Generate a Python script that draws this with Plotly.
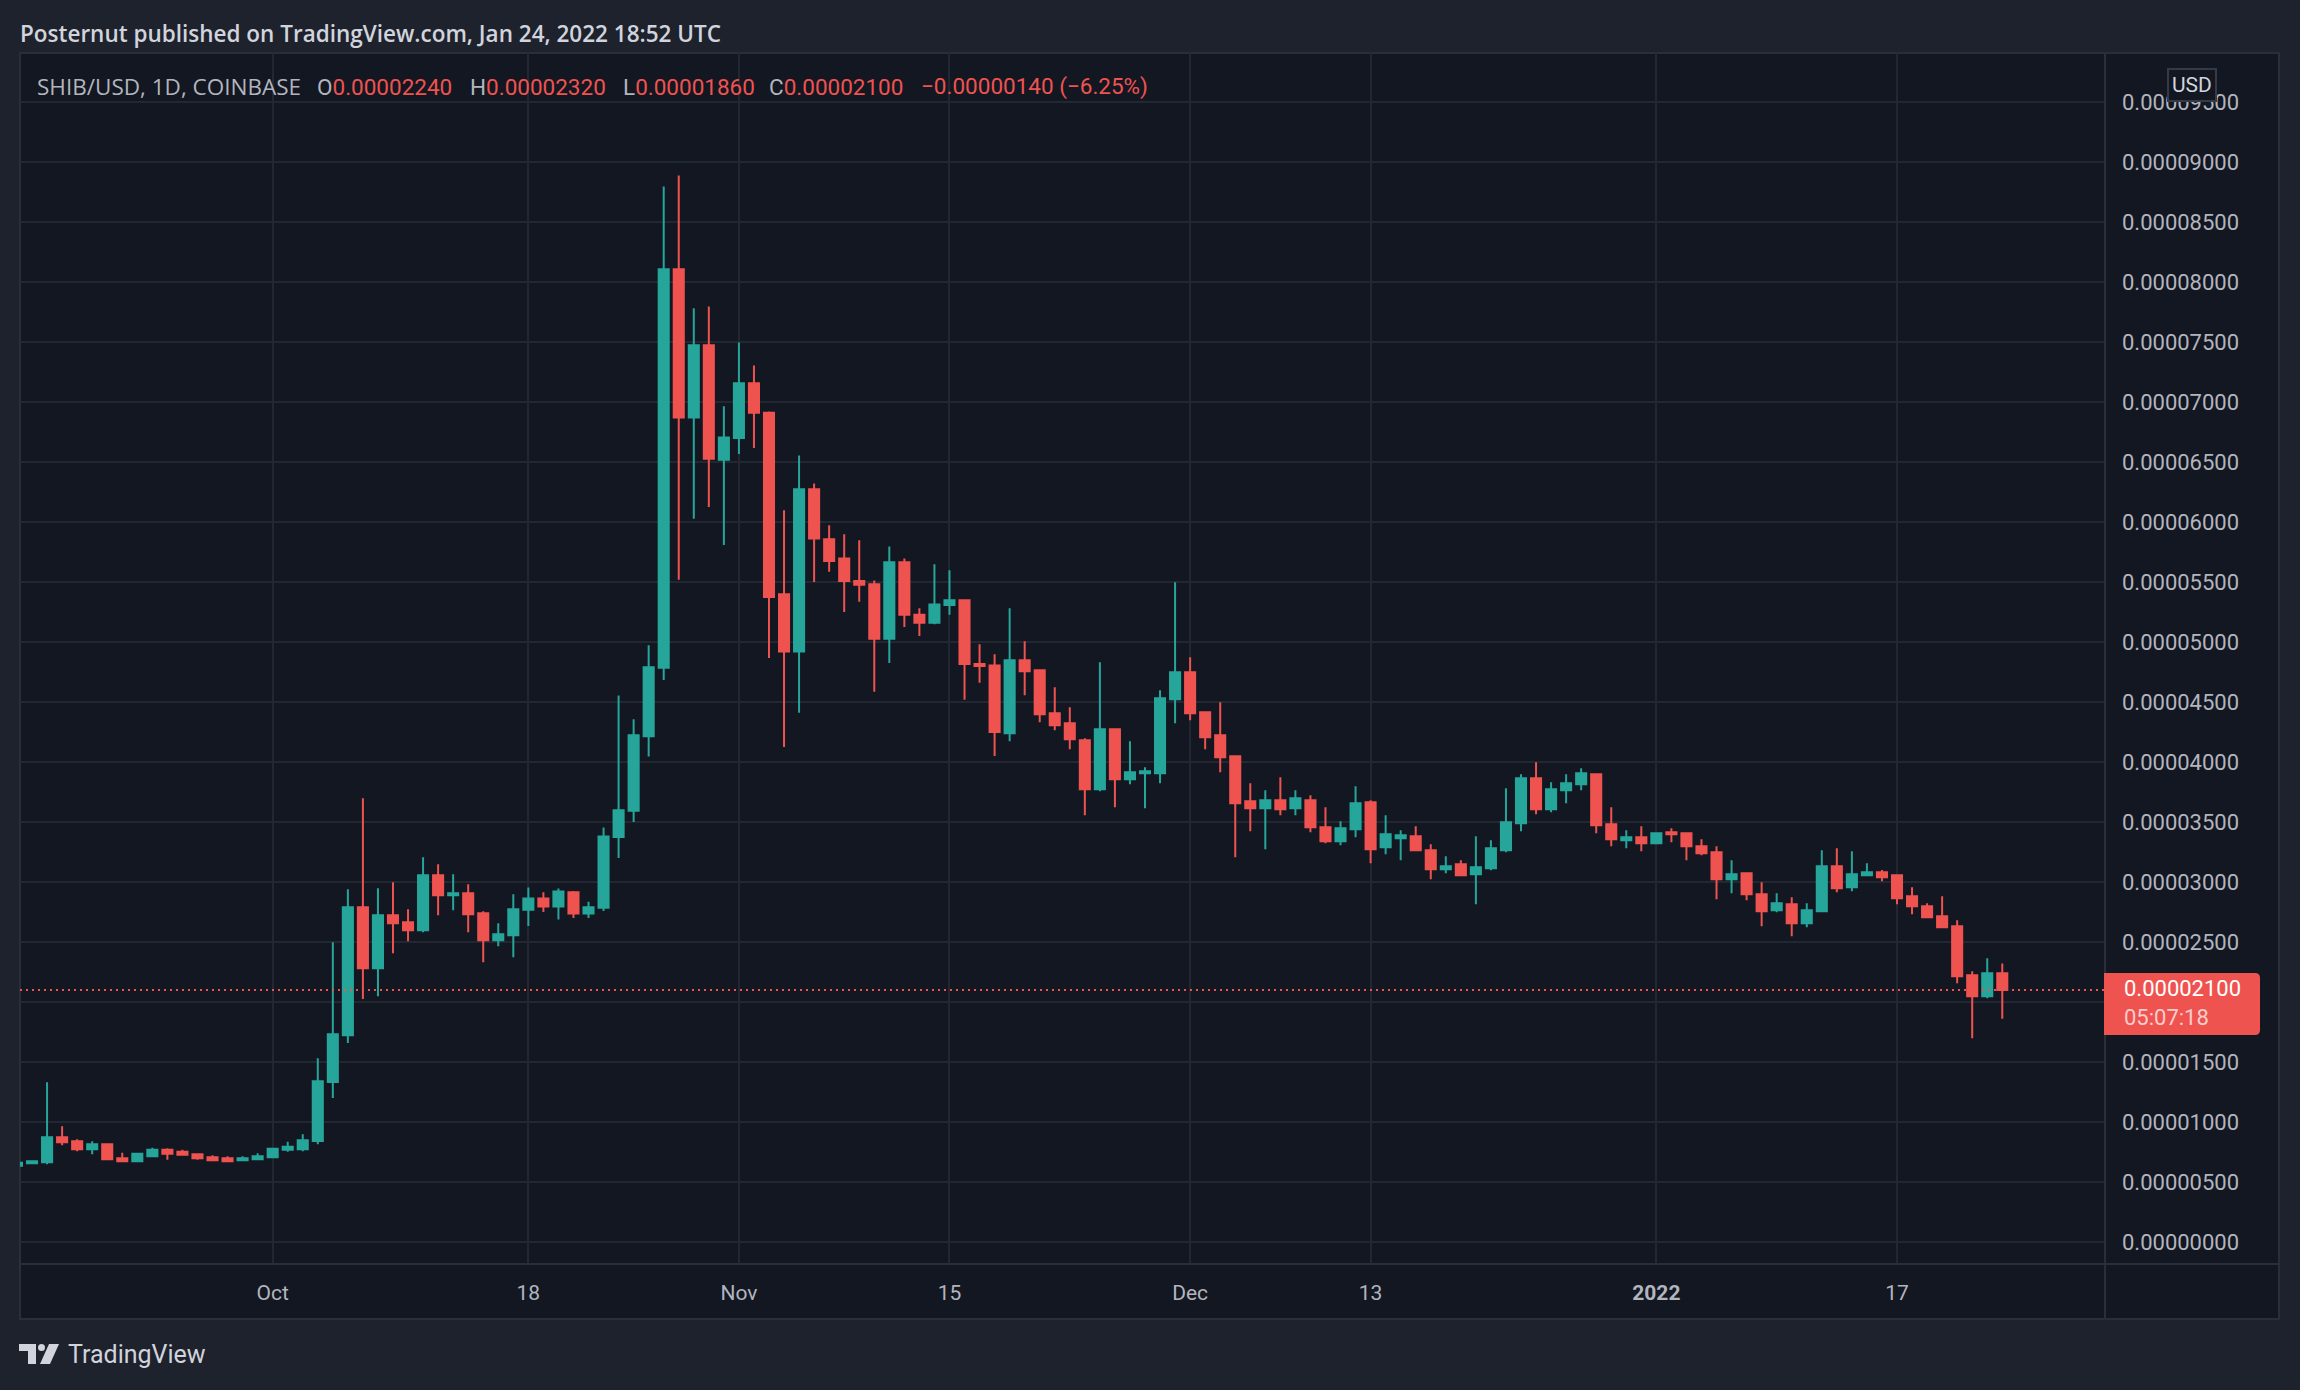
import plotly.graph_objects as go
import pandas as pd

W, H = 2300, 1390

# ---------------- data (prices in units of 0.000001 USD) ----------------
PRICE_UNIT = 1e-6
START_DATE = "2021-09-14"
OPEN = [6.35, 6.56, 6.64, 8.72, 8.39, 7.72, 8.14, 6.97, 6.72, 7.14,
        7.69, 7.53, 7.31, 7.06, 6.97, 6.81, 6.89, 7.06, 7.69, 7.72,
        8.42, 13.33, 17.22, 27.89, 22.81, 27.22, 26.64, 25.97, 30.56, 28.89,
        29.06, 27.39, 25.14, 25.56, 27.68, 28.62, 27.95, 29.15, 27.37, 27.86,
        33.75, 35.93, 42.14, 47.86, 81.07, 68.70, 74.73, 65.18, 67.01, 71.56,
        69.11, 53.97, 49.20, 62.72, 58.57, 56.96, 55.09, 54.82, 50.27, 56.65,
        52.28, 51.61, 53.08, 53.48, 48.17, 48.04, 42.39, 48.47, 47.64, 44.06,
        43.22, 41.81, 37.72, 42.72, 38.56, 39.06, 39.06, 45.22, 47.47, 44.14,
        42.22, 40.47, 36.72, 36.14, 36.81, 36.14, 36.81, 34.56, 33.39, 34.39,
        36.64, 32.89, 33.64, 33.81, 32.64, 31.06, 31.47, 30.64, 31.14, 32.64,
        34.89, 38.64, 36.06, 37.64, 38.14, 38.97, 34.81, 33.47, 33.72, 33.22,
        34.14, 34.06, 32.97, 32.47, 30.22, 30.72, 28.97, 27.64, 28.14, 26.56,
        27.56, 31.31, 29.56, 30.56, 30.81, 30.56, 28.81, 27.97, 27.14, 26.31,
        22.22, 20.47, 22.40]
HIGH = [6.70, 6.81, 13.31, 9.64, 8.56, 8.39, 8.16, 7.44, 7.36, 7.86,
        7.81, 7.69, 7.31, 7.22, 7.14, 7.14, 7.39, 7.86, 8.36, 8.97,
        15.31, 24.97, 29.39, 36.97, 29.47, 29.97, 27.72, 32.06, 31.47, 30.64,
        29.81, 27.56, 26.56, 28.97, 29.55, 29.15, 29.46, 29.24, 28.35, 34.55,
        45.54, 43.57, 49.73, 87.95, 88.88, 77.81, 77.95, 69.64, 74.96, 73.04,
        69.20, 60.98, 65.54, 63.21, 59.73, 58.97, 58.48, 55.13, 57.95, 56.96,
        52.81, 56.47, 55.98, 53.57, 49.82, 48.97, 52.81, 50.06, 47.72, 46.22,
        44.56, 41.97, 48.31, 42.81, 41.72, 39.56, 45.97, 54.97, 48.72, 44.14,
        44.97, 40.47, 38.22, 37.64, 38.72, 37.64, 37.22, 36.22, 35.06, 37.97,
        36.81, 35.56, 34.31, 34.64, 33.14, 32.14, 31.81, 33.81, 33.47, 37.81,
        38.97, 39.97, 38.31, 38.97, 39.47, 39.06, 36.22, 34.31, 34.64, 34.14,
        34.47, 34.06, 33.56, 32.97, 31.81, 30.81, 29.97, 29.06, 28.72, 28.22,
        32.64, 32.81, 32.56, 31.56, 31.00, 30.56, 29.56, 28.22, 28.81, 26.81,
        22.56, 23.64, 23.20]
LOW = [6.30, 6.50, 6.47, 8.06, 7.56, 7.31, 6.86, 6.69, 6.72, 7.06,
       6.86, 7.19, 6.86, 6.78, 6.72, 6.81, 6.89, 7.06, 7.53, 7.56,
       8.14, 12.00, 16.58, 20.25, 20.47, 24.06, 25.06, 25.81, 27.22, 27.64,
       25.81, 23.31, 24.64, 23.72, 26.34, 27.50, 26.88, 27.00, 27.00, 27.59,
       32.01, 35.00, 40.45, 46.83, 55.18, 60.27, 61.25, 58.08, 65.67, 66.16,
       48.66, 41.25, 44.11, 55.00, 55.85, 52.50, 53.35, 45.85, 48.26, 51.25,
       50.49, 51.47, 52.28, 45.18, 46.61, 40.49, 41.72, 45.56, 43.31, 42.64,
       41.06, 35.56, 37.56, 36.22, 38.14, 36.14, 38.22, 43.22, 43.47, 41.06,
       39.14, 32.06, 34.22, 32.72, 35.56, 35.56, 34.14, 33.22, 33.06, 33.72,
       31.56, 32.31, 31.81, 32.56, 30.22, 30.72, 30.56, 28.14, 30.97, 32.47,
       34.22, 35.64, 35.81, 36.56, 37.64, 34.06, 32.97, 32.81, 32.56, 33.22,
       33.31, 31.81, 32.22, 28.56, 29.06, 28.47, 26.31, 27.47, 25.47, 26.22,
       27.47, 29.14, 29.22, 30.47, 30.06, 28.14, 27.31, 27.06, 26.14, 21.56,
       16.97, 20.31, 18.60]
CLOSE = [6.60, 6.72, 8.72, 8.31, 7.72, 8.14, 6.89, 6.72, 7.36, 7.69,
         7.36, 7.28, 6.97, 6.81, 6.72, 6.97, 7.14, 7.78, 7.94, 8.47,
         13.39, 17.31, 27.89, 22.81, 27.22, 26.56, 25.97, 30.56, 28.89, 29.06,
         27.31, 25.14, 25.64, 27.72, 28.62, 27.95, 29.20, 27.37, 27.90, 33.79,
         35.98, 42.23, 47.90, 81.07, 68.71, 74.73, 65.27, 67.05, 71.56, 69.11,
         53.75, 49.20, 62.72, 58.62, 56.74, 55.09, 54.78, 50.27, 56.65, 52.28,
         51.61, 53.13, 53.48, 48.17, 47.99, 42.50, 48.47, 47.56, 43.97, 43.06,
         41.89, 37.72, 42.72, 38.56, 39.14, 39.22, 45.31, 47.47, 44.06, 42.06,
         40.39, 36.56, 36.14, 36.81, 36.06, 36.97, 34.56, 33.39, 34.47, 36.56,
         32.72, 33.97, 33.89, 32.64, 31.06, 31.31, 30.56, 31.22, 32.81, 34.97,
         38.64, 36.06, 37.72, 38.22, 39.06, 34.72, 33.56, 33.72, 33.22, 34.06,
         33.97, 32.97, 32.39, 30.22, 30.64, 28.97, 27.56, 28.22, 26.56, 27.64,
         31.31, 29.47, 30.64, 30.81, 30.39, 28.64, 27.97, 27.06, 26.22, 22.14,
         20.47, 22.40, 21.00]

LAST_PRICE = 21.00
Y_TICK_STEP = 5.0          # 0.000005
Y_TICK_COUNT = 20          # 0 ... 0.000095
X_TICK_DATES = ["2021-10-01", "2021-10-18", "2021-11-01", "2021-11-15",
                "2021-12-01", "2021-12-13", "2022-01-01", "2022-01-17"]
X_TICK_TEXT = ["Oct", "18", "Nov", "15", "Dec", "13", "<b>2022</b>", "17"]

TITLE = "Posternut published on TradingView.com, Jan 24, 2022 18:52 UTC"
SYMBOL = "SHIB/USD, 1D, COINBASE"
HEADER = [("O", "0.00002240"), ("H", "0.00002320"), ("L", "0.00001860"), ("C", "0.00002100")]
CHANGE = "\u22120.00000140 (\u22126.25%)"
COUNTDOWN = "05:07:18"

# ---------------- styling ----------------
BG_OUT = "#1e222d"
BG_IN = "#131722"
GRID = "#232732"
BORDER = "#2a2e39"
UP = "#26a69a"
DOWN = "#ef5350"
TXT = "#b2b5be"
TXT2 = "#d1d4dc"
FONT = "Roboto"
FONT_TXT = "Open Sans"

def px(x):
    return x / W

def py(y):
    return 1 - y / H

dates = pd.date_range(START_DATE, periods=len(CLOSE), freq="D")
sc = lambda arr: [v * PRICE_UNIT for v in arr]

fig = go.Figure()
fig.add_trace(go.Candlestick(
    x=dates, open=sc(OPEN), high=sc(HIGH), low=sc(LOW), close=sc(CLOSE),
    increasing=dict(line=dict(color=UP, width=2), fillcolor=UP),
    decreasing=dict(line=dict(color=DOWN, width=2), fillcolor=DOWN),
    whiskerwidth=0, hoverinfo="skip", showlegend=False,
))

# plot area in pixels
PL, PR, PT, PB = 20, 2105, 53, 1264
FR, FB = 2279, 1319
x_left = pd.Timestamp(START_DATE) + pd.Timedelta(hours=4.8)
x_right = pd.Timestamp("2022-01-30 19:55")

# y ticks: the one under the last-price label is hidden (as in TradingView)
all_ticks = [i * Y_TICK_STEP for i in range(Y_TICK_COUNT)]
hidden = [t for t in all_ticks if abs(t - LAST_PRICE) < 2.6]
shown = [t * PRICE_UNIT for t in all_ticks if t not in hidden]

shapes = [
    dict(type="rect", xref="paper", yref="paper", x0=px(PL), x1=px(FR), y0=py(FB), y1=py(PT),
         fillcolor=BG_IN, line=dict(color=BORDER, width=2), layer="below"),
]
for t in hidden:
    shapes.append(dict(type="line", xref="paper", yref="y", x0=px(PL), x1=px(PR),
                       y0=t * PRICE_UNIT, y1=t * PRICE_UNIT,
                       line=dict(color=GRID, width=2), layer="below"))
shapes += [
    dict(type="line", xref="paper", yref="paper", x0=px(PR), x1=px(PR), y0=py(FB), y1=py(PT),
         line=dict(color=BORDER, width=2), layer="above"),
    dict(type="line", xref="paper", yref="paper", x0=px(PL), x1=px(FR), y0=py(PB), y1=py(PB),
         line=dict(color=BORDER, width=2), layer="above"),
    dict(type="line", xref="paper", yref="y", x0=px(PL), x1=px(PR),
         y0=LAST_PRICE * PRICE_UNIT, y1=LAST_PRICE * PRICE_UNIT,
         line=dict(color=DOWN, width=2, dash="2px,4px"), layer="above"),
]
# price label box with rounded right corners
bx0, bx1, by0, by1, r = 2104, 2260, 973, 1035, 5
path = (f"M {px(bx0)} {py(by0)} L {px(bx1 - r)} {py(by0)} Q {px(bx1)} {py(by0)} {px(bx1)} {py(by0 + r)} "
        f"L {px(bx1)} {py(by1 - r)} Q {px(bx1)} {py(by1)} {px(bx1 - r)} {py(by1)} L {px(bx0)} {py(by1)} Z")
shapes.append(dict(type="path", xref="paper", yref="paper", path=path,
                   fillcolor=DOWN, line=dict(width=0), layer="above"))
# TradingView logo glyph
LOGO = "#d1d4dc"
shapes += [
    dict(type="path", xref="paper", yref="paper",
         path=(f"M {px(19)} {py(1344)} L {px(36)} {py(1344)} L {px(36)} {py(1364)} L {px(28)} {py(1364)} "
               f"L {px(28)} {py(1351)} L {px(19)} {py(1351)} Z"),
         fillcolor=LOGO, line=dict(width=0), layer="above"),
    dict(type="circle", xref="paper", yref="paper", x0=px(38), x1=px(45), y0=py(1351), y1=py(1344),
         fillcolor=LOGO, line=dict(width=0), layer="above"),
    dict(type="path", xref="paper", yref="paper",
         path=(f"M {px(49)} {py(1344)} L {px(59)} {py(1344)} L {px(50)} {py(1364)} L {px(40)} {py(1364)} Z"),
         fillcolor=LOGO, line=dict(width=0), layer="above"),
]

ann = []
ann.append(dict(text=TITLE, x=px(18), y=py(33), xanchor="left", yanchor="middle",
                font=dict(family=FONT_TXT, size=22.5, color=TXT2, weight=600)))
ann.append(dict(text=SYMBOL, x=px(35), y=py(87), xanchor="left", yanchor="middle",
                font=dict(family=FONT_TXT, size=22.5, color=TXT)))
hx = [315, 468, 621, 767]
for (lab, val), xx in zip(HEADER, hx):
    ann.append(dict(text=f"{lab}<span style='color:{DOWN}'>{val}</span>", x=px(xx), y=py(87),
                    xanchor="left", yanchor="middle", font=dict(family=FONT, size=22.5, color=TXT)))
ann.append(dict(text=CHANGE, x=px(919), y=py(87), xanchor="left", yanchor="middle",
                font=dict(family=FONT, size=22.5, color=DOWN)))
ann.append(dict(text="USD", x=px(2192), y=py(85), xanchor="center", yanchor="middle",
                font=dict(family=FONT, size=21, color=TXT2), bgcolor=BG_IN,
                bordercolor="#363a45", borderwidth=2, borderpad=3))
ann.append(dict(text=f"{LAST_PRICE * PRICE_UNIT:.8f}", x=px(2122), y=py(989), xanchor="left", yanchor="middle",
                font=dict(family=FONT, size=22, color="#ffffff")))
ann.append(dict(text=COUNTDOWN, x=px(2122), y=py(1017), xanchor="left", yanchor="middle",
                font=dict(family=FONT, size=22, color="rgba(255,255,255,0.72)")))
ann.append(dict(text="TradingView", x=px(66), y=py(1354), xanchor="left", yanchor="middle",
                font=dict(family=FONT, size=25, color=LOGO)))
for a in ann:
    a.update(xref="paper", yref="paper", showarrow=False)

fig.update_layout(
    width=W, height=H, margin=dict(l=0, r=0, t=0, b=0),
    paper_bgcolor=BG_OUT, plot_bgcolor=BG_IN,
    showlegend=False, hovermode=False,
    boxgap=0.33, boxgroupgap=0,
    shapes=shapes, annotations=ann,
    xaxis=dict(domain=[px(PL), px(PR)], range=[x_left, x_right], type="date",
               rangeslider=dict(visible=False),
               tickvals=X_TICK_DATES, ticktext=X_TICK_TEXT,
               showgrid=True, gridcolor=GRID, gridwidth=2, zeroline=False, showline=False,
               ticks="", tickfont=dict(family=FONT, size=21, color=TXT), ticklabelstandoff=14),
    yaxis=dict(domain=[py(PB), py(PT)], side="right",
               range=[(1242 - PB) / 12 * PRICE_UNIT, (1242 - PT) / 12 * PRICE_UNIT],
               tickmode="array", tickvals=shown, tickformat=".8f",
               showgrid=True, gridcolor=GRID, gridwidth=2, zeroline=False, showline=False,
               ticks="", tickfont=dict(family=FONT, size=22, color=TXT), ticklabelstandoff=16),
)

fig.write_html("out.html")
